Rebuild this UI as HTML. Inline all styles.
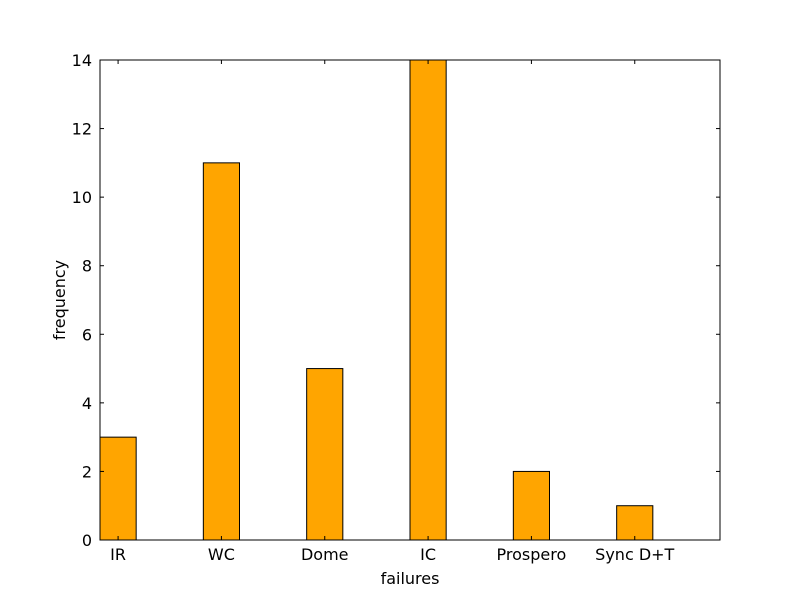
<!DOCTYPE html>
<html><head><meta charset="utf-8"><style>
body{margin:0;background:#fff;}
svg{display:block;font-family:"DejaVu Sans","Liberation Sans",sans-serif;}
</style></head><body>
<svg id="chart" width="800" height="600"></svg>
<script>
const categories=["IR","WC","Dome","IC","Prospero","Sync D+T"];
const frequencies=[3,11,5,14,2,1];
const yTicks=[0,2,4,6,8,10,12,14];
const svg=document.getElementById('chart');
const NS='http://www.w3.org/2000/svg';
const L=100,R=720,T=60,B=540;
const xMin=0,xMax=6,yMin=0,yMax=14,barW=0.35;
const xs=v=>L+(v-xMin)/(xMax-xMin)*(R-L);
const ys=v=>B-(v-yMin)/(yMax-yMin)*(B-T);
function mk(tag,attrs,name){const e=document.createElementNS(NS,tag);for(const k in attrs)e.setAttribute(k,attrs[k]);


svg.appendChild(e);return e;}
categories.forEach((c,i)=>{
  const x0=xs(i),x1=xs(i+barW),y=ys(frequencies[i]);
  mk('rect',{x:x0,y:y,width:x1-x0,height:B-y,fill:'#ffa500',stroke:'#000','stroke-width':1},'bar-'+c.toLowerCase().replace(/[^a-z]+/g,'-'));
  const cx=xs(i+barW/2);
  mk('line',{x1:cx,x2:cx,y1:B,y2:B-4,stroke:'#000'},'x-tick');
  mk('line',{x1:cx,x2:cx,y1:T,y2:T+4,stroke:'#000'},'x-tick-top');
  const t=mk('text',{x:cx,y:B+20,'text-anchor':'middle','font-size':16},'x-tick-label');t.textContent=c;
});
yTicks.forEach(v=>{
  const y=ys(v);
  mk('line',{x1:L,x2:L+4,y1:y,y2:y,stroke:'#000'},'y-tick');
  mk('line',{x1:R,x2:R-4,y1:y,y2:y,stroke:'#000'},'y-tick-right');
  const t=mk('text',{x:L-8,y:y+6,'text-anchor':'end','font-size':16},'y-tick-label');t.textContent=v;
});
mk('rect',{x:L,y:T,width:R-L,height:B-T,fill:'none',stroke:'#000','stroke-width':1},'plot-frame');
const xl=mk('text',{x:(L+R)/2,y:584,'text-anchor':'middle','font-size':16},'x-axis-title');xl.textContent='failures';
const yl=mk('text',{x:65,y:(T+B)/2,'text-anchor':'middle','font-size':16,transform:'rotate(-90 65 '+(T+B)/2+')'},'y-axis-title');yl.textContent='frequency';
</script>
</body></html>
